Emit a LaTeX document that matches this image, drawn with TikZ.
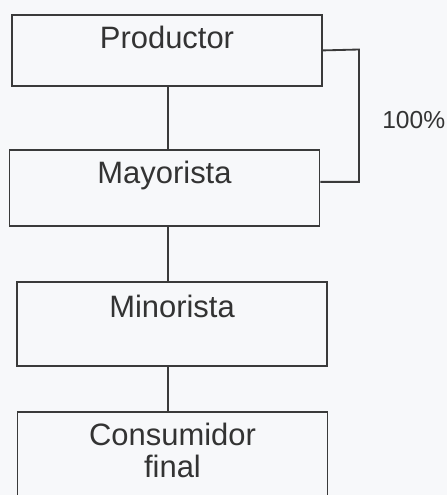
\documentclass[tikz,border=0pt]{standalone}
\usepackage{fontspec}
\setmainfont{Liberation Sans}
\usepackage{tikz}
\definecolor{linea}{HTML}{3A3A3A}
\definecolor{texto}{HTML}{333333}
\definecolor{fondo}{HTML}{F7F8FA}
\tikzset{
  caja/.style={draw=linea, line width=1.3pt, minimum width=7.75cm, inner sep=0pt,
    anchor=north, text=texto, font=\fontsize{22}{22.8}\selectfont},
  enlace/.style={draw=linea, line width=1.3pt}
}

\begin{document}
\begin{tikzpicture}[scale=1]
		\fill[fondo] (0, 0) rectangle (11.175, 12.375);
		\useasboundingbox (0, 0) rectangle (11.175, 12.375);

		\node[caja, text height=0.85cm, text depth=0.925cm] (prod) at (4.175, 12.025) {Productor};
		\node[caja, text height=0.85cm, text depth=1.05cm] (may) at (4.1125, 8.65) {Mayorista};
		\node[caja, text height=0.9cm, text depth=1.2cm] (min) at (4.3, 5.35) {Minorista};
		\node[caja, text height=1.65cm, text depth=0.65cm, align=center] (cons) at (4.3125, 2.1) {Consumidor\\final};

		\coordinate (eje) at (4.2, 0);
		\draw[enlace] (prod.south -| eje) -- (may.north -| eje);
		\draw[enlace] (may.south -| eje) -- (min.north -| eje);
		\draw[enlace] (min.south -| eje) -- (cons.north -| eje);

		\draw[enlace] (prod.east) -- (8.975, 11.1375) coordinate (esq) |- ([yshift=0.15cm]may.east);
		\node[anchor=west, inner sep=0pt, text=texto, font=\fontsize{17.5}{20}\selectfont] (pct) at (9.55, 9.375) {100\%};
	\end{tikzpicture}
\end{document}
